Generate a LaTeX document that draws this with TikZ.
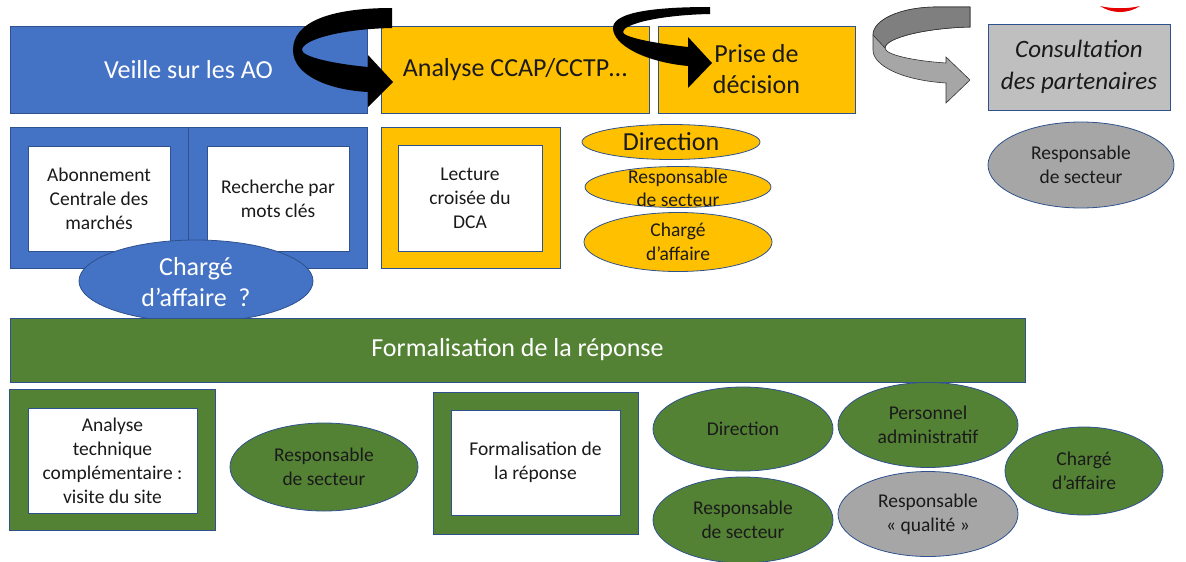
\documentclass[tikz,border=0pt]{standalone}
\usepackage{fontspec}
\setmainfont{Carlito}
\usetikzlibrary{shapes.geometric}
\definecolor{cblue}{HTML}{4472C4}
\definecolor{cyell}{HTML}{FFC000}
\definecolor{cgreen}{HTML}{548235}
\definecolor{cgrayb}{HTML}{BFBFBF}
\definecolor{cgraye}{HTML}{A6A6A6}
\definecolor{outl}{HTML}{2F528F}
\definecolor{ctxt}{HTML}{1A1A1A}
\definecolor{garrowd}{HTML}{7F7F7F}
\definecolor{garrowl}{HTML}{A6A6A6}
\begin{document}
\begin{tikzpicture}[x=1pt,y=-1pt,
  rbox/.style={draw=outl, line width=0.8pt, inner sep=0pt, rectangle},
  ell/.style={draw=outl, line width=0.8pt, inner sep=0pt, ellipse},
  bigtxt/.style={font=\fontsize{26}{31}\selectfont, align=center},
  smtxt/.style={font=\fontsize{19.5}{24}\selectfont, align=center, text=ctxt},
  lbl/.style={inner sep=0pt, align=center}]
\useasboundingbox (0,0) rectangle (1186,562);

% ---- top row ----
\node[rbox, fill=cblue, minimum width=357pt, minimum height=87pt, bigtxt, text=white] (veille) at (188.5,69.5) {Veille sur les AO};
\node[rbox, fill=cyell, minimum width=268pt, minimum height=87pt, bigtxt, text=ctxt] (analyse) at (515,69.5) {Analyse CCAP/CCTP…};
\node[rbox, fill=cyell, minimum width=197pt, minimum height=87pt, bigtxt, text=ctxt] (prise) at (756.5,69.5) {Prise de\\décision};
\node[rbox, fill=cgrayb, minimum width=182pt, minimum height=86pt, bigtxt, text=ctxt, font=\fontsize{25}{32}\selectfont\itshape] (consult) at (1079,67) {Consultation\\des partenaires};

% red partial shape
\fill[red!90!black] (1100,6) .. controls (1112,14) and (1128,14) .. (1140,6) .. controls (1128,9) and (1112,9) .. (1100,6) -- cycle;

% ---- second row ----
\node[rbox, fill=cblue, minimum width=178pt, minimum height=141pt] (cont1) at (99,197.5) {};
\node[rbox, fill=cblue, minimum width=179pt, minimum height=141pt] (cont2) at (277.5,197.5) {};
\node[rbox, fill=white, minimum width=142pt, minimum height=105pt, smtxt] (abon) at (99,198.5) {Abonnement\\Centrale des\\marchés};
\node[rbox, fill=white, minimum width=142pt, minimum height=105pt, smtxt] (rech) at (278,198.5) {Recherche par\\mots clés};
\node[ell, fill=cblue, minimum width=234pt, minimum height=82pt] (chb) at (196,281) {};
\node[lbl, bigtxt, text=white] (chbt) at (196,282) {Chargé\\d’affaire~ ?};

\node[rbox, fill=cyell, minimum width=179pt, minimum height=141pt] (cont3) at (470.5,197.5) {};
\node[rbox, fill=white, minimum width=144pt, minimum height=106pt, smtxt] (lect) at (470,198) {Lecture\\croisée du\\DCA};

\node[ell, fill=cyell, minimum width=178pt, minimum height=35pt] (ydir) at (671,142) {};
\node[lbl, bigtxt, text=ctxt] (ydirt) at (ydir) {Direction};
\node[ell, fill=cyell, minimum width=186pt, minimum height=41pt] (yresp) at (678,187) {};
\node[lbl, smtxt, font=\fontsize{19.5}{23}\selectfont] (yrespt) at (678,188) {Responsable\\de secteur};
\node[ell, fill=cyell, minimum width=188pt, minimum height=59pt] (ych) at (678,242) {};
\node[lbl, smtxt] (ycht) at (ych) {Chargé\\d’affaire};

\node[ell, fill=cgraye, minimum width=186pt, minimum height=86pt] (gresp) at (1081,165) {};
\node[lbl, smtxt] (grespt) at (gresp) {Responsable\\de secteur};

% ---- green bar ----
\node[rbox, fill=cgreen, minimum width=1015pt, minimum height=64pt, bigtxt, text=white] (form) at (517.5,350) {Formalisation de la réponse};

% ---- bottom row ----
\node[rbox, fill=cgreen, minimum width=206pt, minimum height=141pt] (cont4) at (112,459.5) {};
\node[rbox, fill=white, minimum width=169pt, minimum height=105pt, smtxt] (anat) at (112.5,460.5) {Analyse\\technique\\complémentaire :\\visite du site};
\node[ell, fill=cgreen, minimum width=188pt, minimum height=88pt] (bresp1) at (324,467) {};
\node[lbl, smtxt] (bresp1t) at (bresp1) {Responsable\\de secteur};

\node[rbox, fill=cgreen, minimum width=205pt, minimum height=142pt] (cont5) at (535.5,463) {};
\node[rbox, fill=white, minimum width=169pt, minimum height=105pt, smtxt] (formb) at (535.5,462.5) {Formalisation de\\la réponse};

\node[ell, fill=cgreen, minimum width=180pt, minimum height=84pt] (bdir) at (743,429) {};
\node[lbl, smtxt] (bdirt) at (bdir) {Direction};
\node[ell, fill=cgreen, minimum width=180pt, minimum height=85pt] (bpers) at (928,425) {};
\node[lbl, smtxt] (bperst) at (bpers) {Personnel\\administratif};
\node[ell, fill=cgreen, minimum width=158pt, minimum height=88pt] (bch) at (1084,471) {};
\node[lbl, smtxt] (bcht) at (bch) {Chargé\\d’affaire};
\node[ell, fill=cgreen, minimum width=180pt, minimum height=86pt] (bresp2) at (743,520) {};
\node[lbl, smtxt] (bresp2t) at (bresp2) {Responsable\\de secteur};
\node[ell, fill=cgraye, minimum width=180pt, minimum height=85pt] (bqual) at (928,514) {};
\node[lbl, smtxt] (bqualt) at (bqual) {Responsable\\« qualité »};

% ---- curved block arrows ----
\fill[black] (392,8) .. controls (330,8) and (293,22) .. (293,50) .. controls (293,76) and (330,90) .. (368,92) -- (368,107) -- (393,82) -- (368,55) -- (368,67) .. controls (335,64) and (302,57) .. (302,50) .. controls (302,40) and (340,29) .. (392,28) -- cycle;
\fill[black] (710,7) .. controls (645,7) and (613,14) .. (613,28) .. controls (613,45) and (645,62) .. (688,66) -- (688,88) -- (712,63) -- (688,37) -- (688,47) .. controls (652,43) and (623,37) .. (623,32) .. controls (623,24) and (660,15) .. (710,14) -- cycle;
\filldraw[fill=garrowl, draw=black!80, line width=0.6pt] (970,7) -- (937,7) .. controls (900,7) and (873,20) .. (873,35) -- (873,50) .. controls (873,65) and (900,80) .. (946,83) -- (946,103) -- (970,80) -- (946,57) -- (946,63) .. controls (915,61) and (885,55) .. (885,48) .. controls (885,38) and (925,28) .. (970,27) -- cycle;
\filldraw[fill=garrowd, draw=black!80, line width=0.6pt] (970,7) -- (937,7) .. controls (900,7) and (873,20) .. (873,35) -- (885,48) .. controls (885,38) and (925,28) .. (970,27) -- cycle;
\end{tikzpicture}
\end{document}
